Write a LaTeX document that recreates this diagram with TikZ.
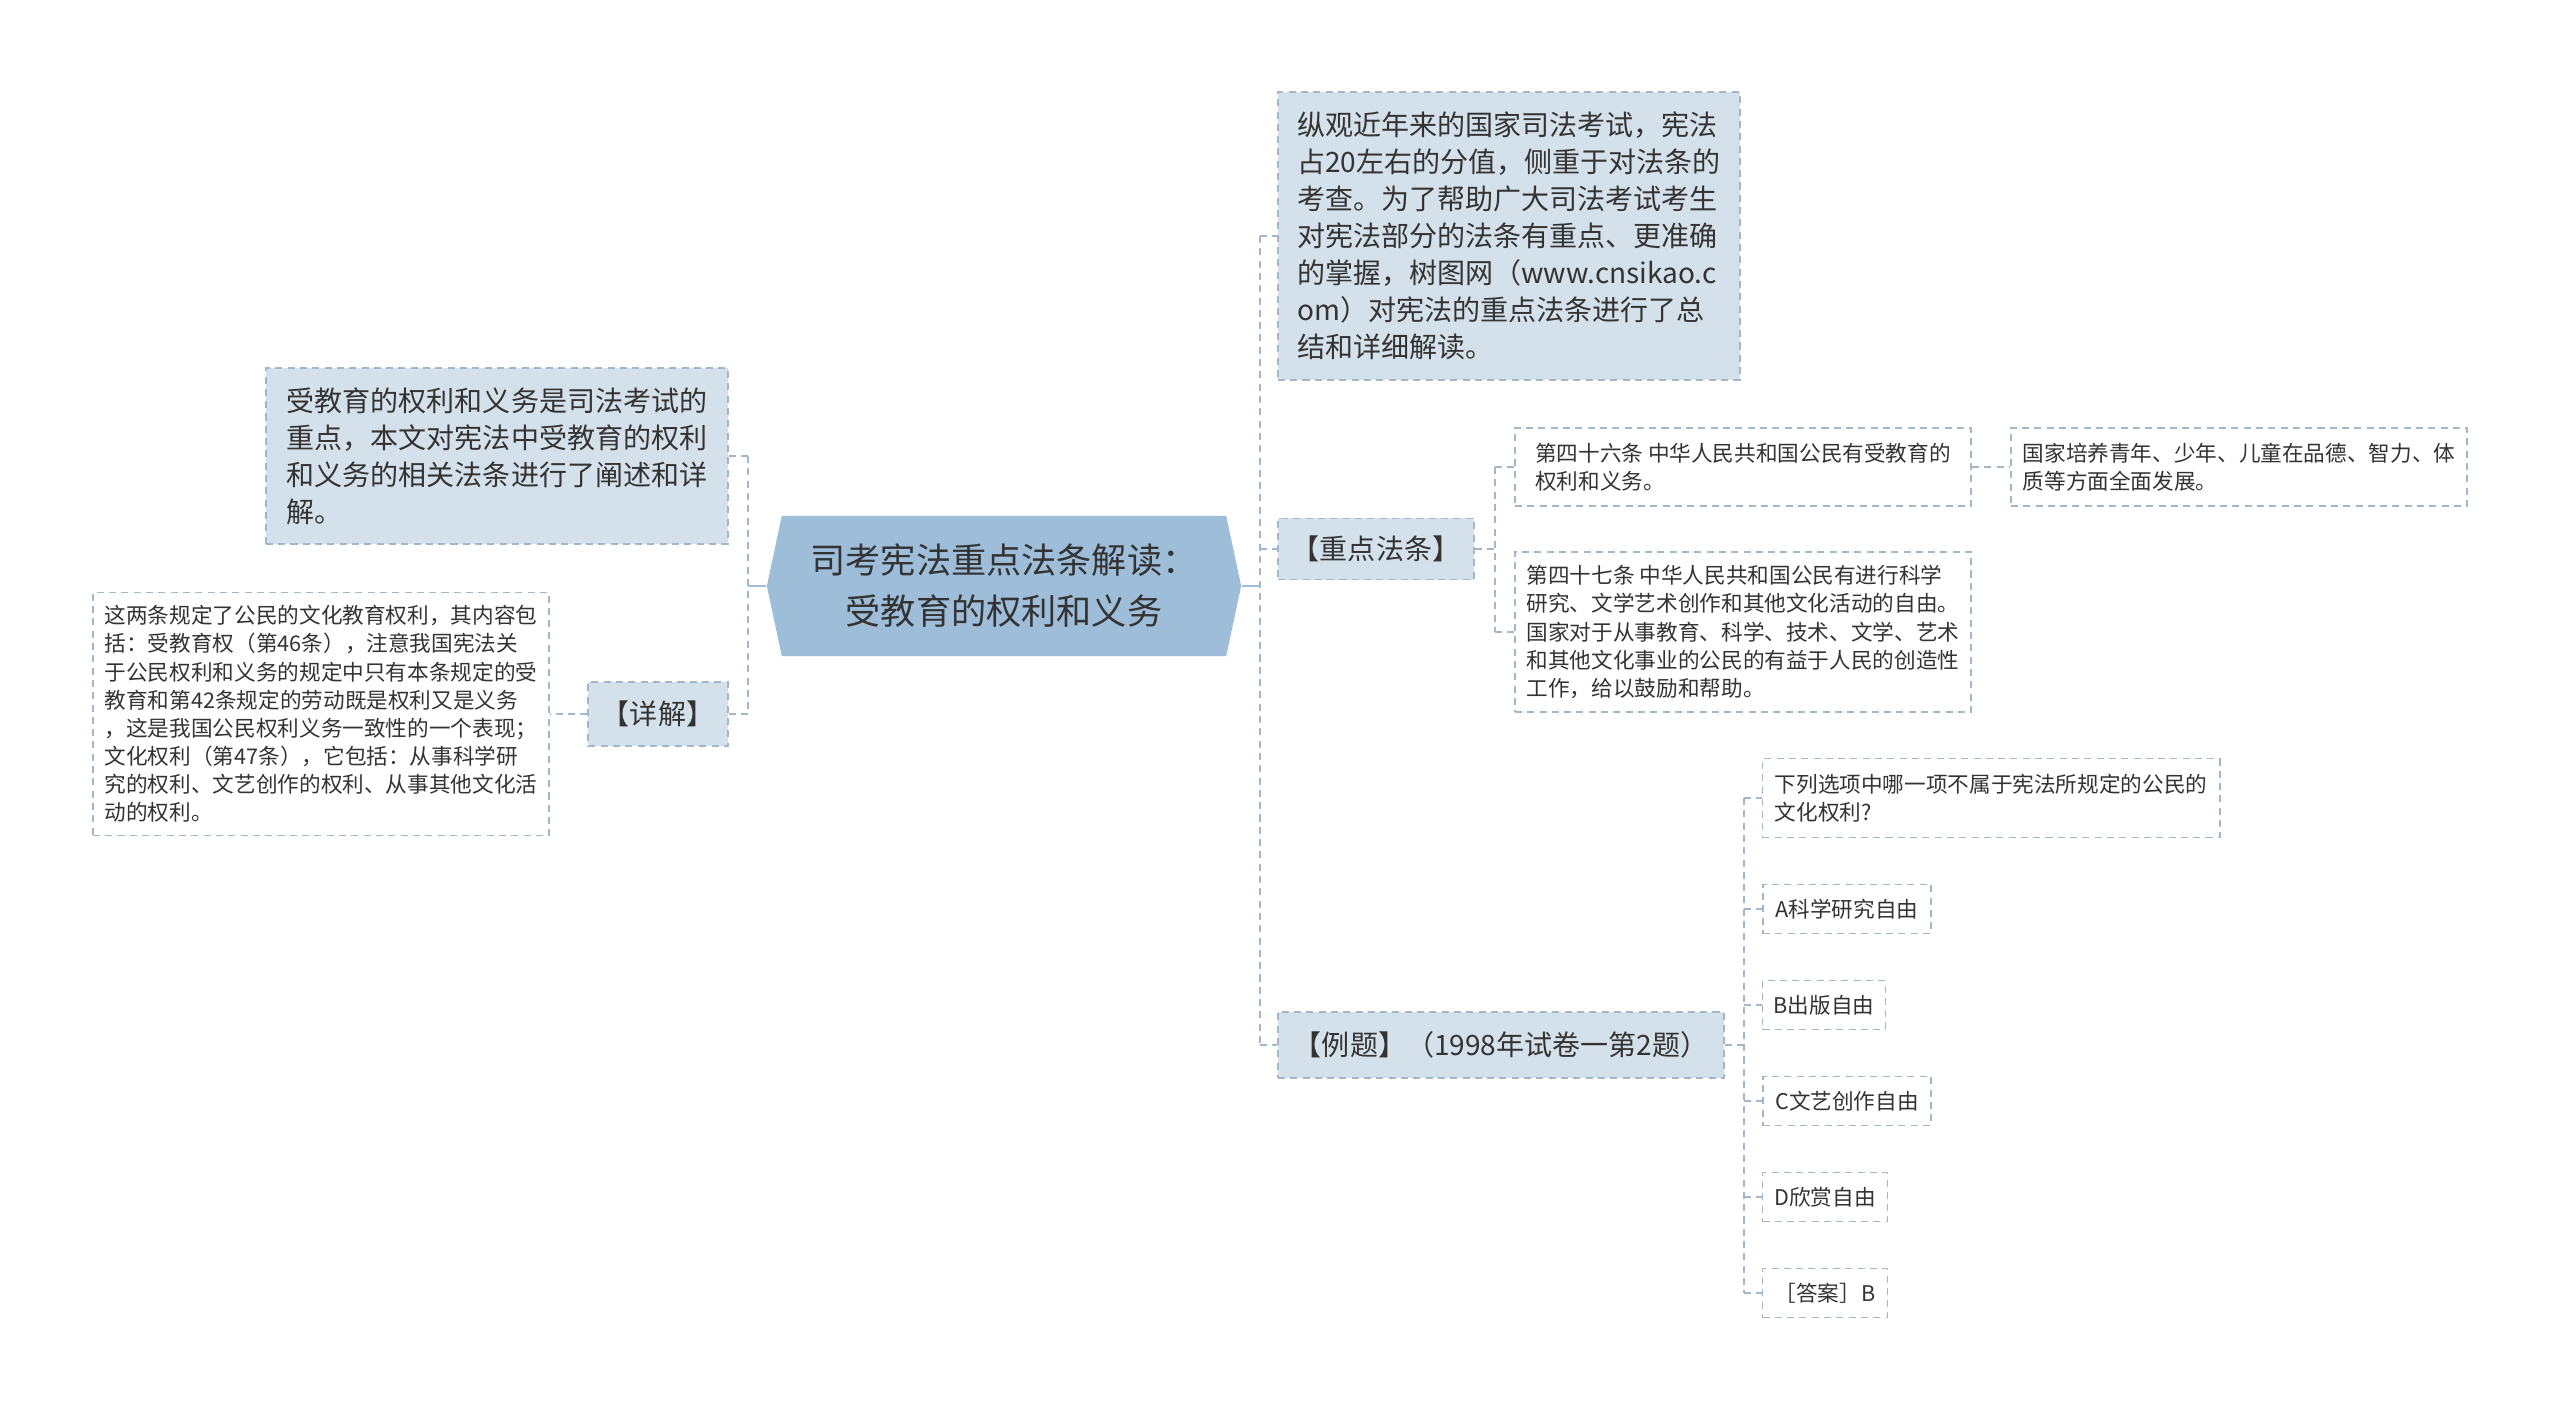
\documentclass[tikz,border=0pt]{standalone}
\usepackage{fontspec}
\setmainfont{Noto Sans CJK SC}
\usetikzlibrary{shapes.symbols}

\definecolor{rootblue}{HTML}{9DBDD9}
\definecolor{paleblue}{HTML}{D5E1EA}
\definecolor{linkgray}{HTML}{A3B7CA}
\definecolor{inkgray}{HTML}{333333}

\begin{document}
\begin{tikzpicture}[
        x=0.01cm, y=-0.01cm,
        topic/.style={signal, signal to=west and east, signal pointer angle=156, fill=rootblue, text=inkgray, minimum width=4.74cm, minimum height=1.40cm, align=center, font=\fontsize{10pt}{14.5pt}\selectfont},
        branch/.style={rectangle, draw=linkgray, line width=0.55pt, dash pattern=on 2pt off 1.5pt, fill=paleblue, text=inkgray, align=left, inner sep=0pt, font=\fontsize{7.97pt}{10.5pt}\selectfont},
        leaf/.style={rectangle, draw=linkgray, line width=0.5pt, dash pattern=on 2pt off 1.5pt, fill=white, text=inkgray, align=left, inner sep=0pt, font=\fontsize{6.15pt}{8pt}\selectfont},
        link/.style={draw=linkgray, line width=0.6pt, dash pattern=on 2pt off 1.5pt},
        rootlink/.style={draw=rootblue, line width=0.8pt}
    ]
        \useasboundingbox (0,0) rectangle (2560,1410);

        % central topic
        \node[topic] (root) at (1004,586) {司考宪法重点法条解读：\\受教育的权利和义务};

        % left side
        \node[branch, minimum width=4.62cm, minimum height=1.75cm] (summary) at (497,456) {受教育的权利和义务是司法考试的\\重点，本文对宪法中受教育的权利\\和义务的相关法条进行了阐述和详\\解。};
        \node[branch, minimum width=1.39cm, minimum height=0.64cm, align=center] (explain) at (658,714) {【详解】};
        \node[leaf, minimum width=4.56cm, minimum height=2.43cm] (explaintext) at (321,714) {这两条规定了公民的文化教育权利，其内容包\\括：受教育权（第46条），注意我国宪法关\\于公民权利和义务的规定中只有本条规定的受\\教育和第42条规定的劳动既是权利又是义务\\，这是我国公民权利义务一致性的一个表现；\\文化权利（第47条），它包括：从事科学研\\究的权利、文艺创作的权利、从事其他文化活\\动的权利。};

        % right side
        \node[branch, minimum width=4.62cm, minimum height=2.87cm] (intro) at (1509,236) {纵观近年来的国家司法考试，宪法\\占20左右的分值，侧重于对法条的\\考查。为了帮助广大司法考试考生\\对宪法部分的法条有重点、更准确\\的掌握，树图网（www.cnsikao.c\\om）对宪法的重点法条进行了总\\结和详细解读。};
        \node[branch, minimum width=1.96cm, minimum height=0.61cm, align=center] (keylaw) at (1376,549) {【重点法条】};
        \node[branch, minimum width=4.46cm, minimum height=0.66cm, align=center] (example) at (1501,1045) {【例题】（1998年试卷一第2题）};

        % key articles
        \node[leaf, minimum width=4.56cm, minimum height=0.78cm] (art46) at (1743,467) {第四十六条 中华人民共和国公民有受教育的\\权利和义务。};
        \node[leaf, minimum width=4.56cm, minimum height=0.78cm] (art46note) at (2239,467) {国家培养青年、少年、儿童在品德、智力、体\\质等方面全面发展。};
        \node[leaf, minimum width=4.56cm, minimum height=1.60cm] (art47) at (1743,632) {第四十七条 中华人民共和国公民有进行科学\\研究、文学艺术创作和其他文化活动的自由。\\国家对于从事教育、科学、技术、文学、艺术\\和其他文化事业的公民的有益于人民的创造性\\工作，给以鼓励和帮助。};

        % example question
        \node[leaf, minimum width=4.57cm, minimum height=0.79cm] (question) at (1991,798) {下列选项中哪一项不属于宪法所规定的公民的\\文化权利?};
        \node[leaf, minimum width=1.68cm, minimum height=0.49cm] (optA) at (1847,909) {A科学研究自由};
        \node[leaf, minimum width=1.23cm, minimum height=0.49cm] (optB) at (1824,1005) {B出版自由};
        \node[leaf, minimum width=1.68cm, minimum height=0.49cm] (optC) at (1847,1101) {C文艺创作自由};
        \node[leaf, minimum width=1.25cm, minimum height=0.49cm] (optD) at (1825,1197) {D欣赏自由};
        \node[leaf, minimum width=1.25cm, minimum height=0.49cm] (answer) at (1825,1293) {［答案］B};

        % trunks
        \coordinate (ltrunk) at (748,586);
        \coordinate (rtrunk) at (1260,586);
        \coordinate (ktrunk) at (1495,549);
        \coordinate (etrunk) at (1744,1045);

        % left connectors
        \draw[rootlink] (root.west) -- (ltrunk);
        \draw[link] (ltrunk |- summary.east) -- (ltrunk |- explain.east);
        \draw[link] (ltrunk |- summary.east) -- (summary.east);
        \draw[link] (ltrunk |- explain.east) -- (explain.east);
        \draw[link] (explain.west) -- (explaintext.east);

        % right connectors
        \draw[rootlink] (root.east) -- (rtrunk);
        \draw[link] (rtrunk |- intro.west) -- (rtrunk |- example.west);
        \foreach \n in {intro, keylaw, example} {
            \draw[link] (rtrunk |- \n.west) -- (\n.west);
        }
        \draw[link] (keylaw.east) -- (ktrunk);
        \draw[link] (ktrunk |- art46.west) -- (ktrunk |- art47.west);
        \foreach \n in {art46, art47} {
            \draw[link] (ktrunk |- \n.west) -- (\n.west);
        }
        \draw[link] (art46.east) -- (art46note.west);
        \draw[link] (example.east) -- (etrunk);
        \draw[link] (etrunk |- question.west) -- (etrunk |- answer.west);
        \foreach \n in {question, optA, optB, optC, optD, answer} {
            \draw[link] (etrunk |- \n.west) -- (\n.west);
        }

    \end{tikzpicture}
\end{document}
